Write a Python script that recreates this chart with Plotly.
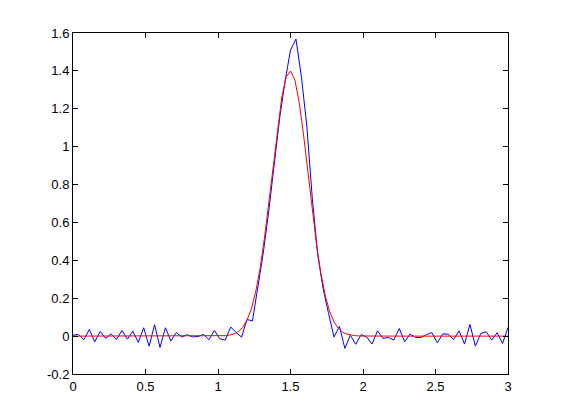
import numpy as np
import plotly.graph_objects as go

# Measured data (blue), 81 samples on 0..3
data_x = np.linspace(0, 3, 81)
data_y = [
    0.005, 0.009, -0.019, 0.035, -0.030, 0.025, -0.012, 0.012, -0.018, 0.030,
    -0.016, 0.026, -0.033, 0.044, -0.053, 0.060, -0.060, 0.044, -0.026, 0.019,
    -0.005, 0.007, -0.004, -0.002, 0.009, -0.019, 0.030, -0.014, -0.021, 0.048,
    0.019, -0.005, 0.088, 0.080, 0.260, 0.440, 0.660, 0.905, 1.150, 1.345,
    1.510, 1.568, 1.370, 1.110, 0.730, 0.430, 0.250, 0.120, -0.005, 0.052,
    -0.065, 0.005, -0.043, 0.008, -0.005, -0.042, 0.028, -0.012, -0.007, -0.021,
    0.040, -0.030, 0.011, -0.007, -0.007, 0.008, 0.018, -0.035, 0.012, 0.010,
    -0.018, 0.028, -0.042, 0.062, -0.053, 0.014, 0.023, -0.021, 0.018, -0.039,
    0.046,
]

# Fitted curve (red), 101 samples on 0..3
fit_x = np.linspace(0, 3, 101)
fit_y = [
    0.0, 0.0, 0.0, 0.0, 0.0, 0.0, 0.0, 0.0, 0.0, 0.0,
    0.0, 0.0, 0.0, 0.0, 0.0, 0.0, 0.0, 0.0, 0.0, 0.0,
    0.0, 0.0, 0.0, 0.0, 0.0, 0.0, 0.0, 0.0, 0.0, 0.0,
    0.0, 0.0, 0.0, 0.0003, 0.001, 0.0024, 0.0054, 0.0118, 0.0240, 0.0461,
    0.0838, 0.1439, 0.2331, 0.3566, 0.5150, 0.7024, 0.9044, 1.0996, 1.2621, 1.3678,
    1.3996, 1.3521, 1.2334, 1.0623, 0.8638, 0.6632, 0.4808, 0.3290, 0.2127, 0.1298,
    0.0747, 0.0406, 0.0209, 0.0101, 0.0046, 0.0020, 0.0008, 0.0003, 0.0, 0.0,
    0.0, 0.0, 0.0, 0.0, 0.0, 0.0, 0.0, 0.0, 0.0, 0.0,
    0.0, 0.0, 0.0, 0.0, 0.0, 0.0, 0.0, 0.0, 0.0, 0.0,
    0.0, 0.0, 0.0, 0.0, 0.0, 0.0, 0.0, 0.0, 0.0, 0.0,
    0.0,
]

x_ticks = [0, 0.5, 1, 1.5, 2, 2.5, 3]
x_labels = ["0", "0.5", "1", "1.5", "2", "2.5", "3"]
y_ticks = [-0.2, 0, 0.2, 0.4, 0.6, 0.8, 1, 1.2, 1.4, 1.6]
y_labels = ["-0.2", "0", "0.2", "0.4", "0.6", "0.8", "1", "1.2", "1.4", "1.6"]

fig = go.Figure()
fig.add_trace(go.Scatter(x=data_x, y=data_y, mode="lines",
                         line=dict(color="#0000ff", width=1), showlegend=False))
fig.add_trace(go.Scatter(x=fit_x, y=fit_y, mode="lines",
                         line=dict(color="#ff0000", width=1), showlegend=False))

axis_common = dict(showgrid=False, zeroline=False, showline=True, linecolor="black",
                   linewidth=1, mirror="ticks", ticks="inside", ticklen=5,
                   tickcolor="black", tickwidth=1,
                   tickfont=dict(family="Liberation Sans, Arial, sans-serif", size=13, color="black"))

fig.update_xaxes(range=[0, 3], tickvals=x_ticks, ticktext=x_labels, **axis_common)
fig.update_yaxes(range=[-0.2, 1.6], tickvals=y_ticks, ticktext=y_labels, **axis_common)

fig.update_layout(width=553, height=412, plot_bgcolor="white", paper_bgcolor="white",
                  margin=dict(l=65, r=53, t=25, b=46))

fig.write_html("out.html")
